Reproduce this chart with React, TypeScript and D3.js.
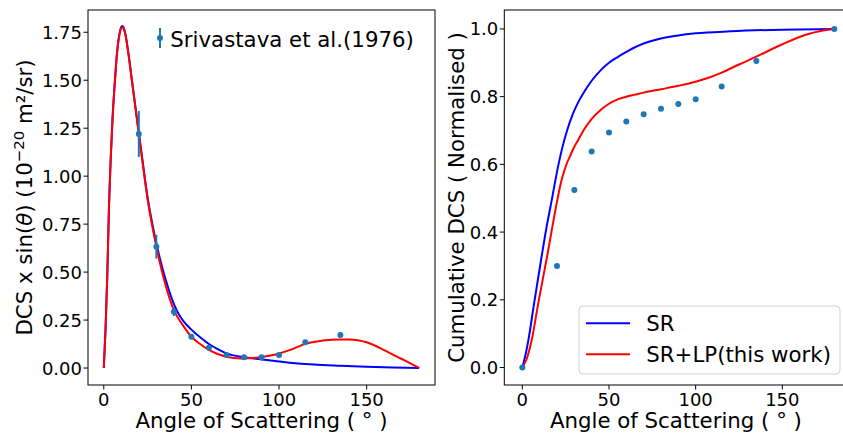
import React from 'react';
import * as d3 from 'd3';

// ---------- Left panel: DCS x sin(theta) ----------
const srAngles = [0, 1, 2, 3, 4, 5, 6, 7, 8, 9, 10.5, 12, 14, 16, 18, 20, 22, 25, 30, 35, 42, 45, 50, 55, 60, 65, 70, 80, 90, 100, 106, 120, 135, 150, 165, 180];
const srValues = [0, 0.2, 0.48, 0.85, 1.1, 1.3, 1.45, 1.58, 1.68, 1.745, 1.782, 1.755, 1.645, 1.505, 1.365, 1.225, 1.09, 0.89, 0.65, 0.47, 0.293, 0.25, 0.2, 0.16, 0.125, 0.098, 0.076, 0.056, 0.045, 0.034, 0.028, 0.018, 0.012, 0.007, 0.003, 0];

const lpAngles = [0, 1, 2, 3, 4, 5, 6, 7, 8, 9, 10.5, 12, 14, 16, 18, 20, 22, 25, 30, 35, 40, 45, 50, 55, 60, 65, 70, 78, 87, 95, 100, 108, 115, 125, 135, 140, 145, 150, 155, 160, 165, 170, 175, 180];
const lpValues = [0, 0.2, 0.48, 0.85, 1.1, 1.3, 1.45, 1.58, 1.68, 1.74, 1.776, 1.75, 1.64, 1.5, 1.36, 1.22, 1.08, 0.88, 0.632, 0.44, 0.302, 0.225, 0.163, 0.125, 0.094, 0.073, 0.059, 0.05, 0.054, 0.065, 0.076, 0.1, 0.126, 0.143, 0.149, 0.149, 0.145, 0.134, 0.116, 0.093, 0.07, 0.047, 0.024, 0];

const expAngles = [20, 30, 40, 50, 60, 70, 80, 90, 100, 115, 135];
const expDCS = [1.22, 0.632, 0.293, 0.163, 0.106, 0.068, 0.056, 0.056, 0.068, 0.134, 0.172];
const expErr = [0.12, 0.062, 0.022, 0.01, 0.008, 0.006, 0.005, 0.005, 0.006, 0.008, 0.014];

// ---------- Right panel: cumulative ----------
const cumSRAngles = [0, 1.5, 3.5, 6.5, 9, 11.2, 14, 17, 20, 23, 26, 29, 32.5, 36, 40, 45, 50, 55, 60, 65, 70, 80, 90, 100, 120, 150, 180];
const cumSRValues = [0, 0.03, 0.081, 0.18, 0.26, 0.33, 0.415, 0.495, 0.578, 0.648, 0.703, 0.747, 0.786, 0.817, 0.847, 0.877, 0.9, 0.917, 0.932, 0.946, 0.957, 0.972, 0.981, 0.987, 0.993, 0.998, 1.0];

const cumLPAngles = [0, 2.5, 5.4, 9.2, 14.1, 20.2, 22, 24, 26, 28, 29.8, 32, 35, 39.8, 45, 50, 55, 60, 65, 70, 80, 90, 100, 107, 115, 125, 135, 145, 155, 165, 172, 180];
const cumLPValues = [0, 0.025, 0.081, 0.19, 0.323, 0.495, 0.54, 0.578, 0.607, 0.63, 0.65, 0.67, 0.698, 0.733, 0.76, 0.779, 0.792, 0.8, 0.806, 0.812, 0.822, 0.832, 0.844, 0.855, 0.871, 0.895, 0.918, 0.943, 0.966, 0.985, 0.994, 1.0];

const cumExpAngles = [0, 20, 30, 40, 50, 60, 70, 80, 90, 100, 115, 135, 180];
const cumExpValues = [0, 0.3, 0.524, 0.638, 0.694, 0.727, 0.748, 0.764, 0.778, 0.792, 0.83, 0.905, 1.0];

const xTicks = [0, 50, 100, 150];
const leftYTicks = [0, 0.25, 0.5, 0.75, 1.0, 1.25, 1.5, 1.75];
const rightYTicks = [0, 0.2, 0.4, 0.6, 0.8, 1.0];

const legendLabels = ['SR', 'SR+LP(this work)'];
const expLabel = 'Srivastava et al.(1976)';

const FONT = 'DejaVu Sans, sans-serif';
const PT = '#1f77b4';

function makeLine(xs: number[], ys: number[], sx: any, sy: any) {
  return d3
    .line<number>()
    .x((_, i) => sx(xs[i]))
    .y((d) => sy(d))
    .curve(d3.curveMonotoneX)(ys) as string;
}

export default function App() {
  const W = 843;
  const H = 433;
  const lx = d3.scaleLinear().domain([-9, 189]).range([88, 435]);
  const ly = d3.scaleLinear().domain([-0.0885, 1.866]).range([385, 10]);
  const rx = d3.scaleLinear().domain([-10.4, 187.6]).range([504.3, 847.5]);
  const ry = d3.scaleLinear().domain([-0.0517, 1.056]).range([385, 10]);

  const tickFs = 18;
  const labFs = 21.3;

  const frame = (sx: any, sy: any) => {
    const [x0, x1] = sx.range();
    const [y0, y1] = sy.range();
    return (
      <rect x={x0} y={y1} width={x1 - x0} height={y0 - y1} fill="none" stroke="#000" strokeWidth={1} />
    );
  };

  const xAxis = (sx: any, sy: any) => {
    const yb = sy.range()[0];
    return xTicks.map((t) => (
      <g key={'xt' + t}>
        <line x1={sx(t)} x2={sx(t)} y1={yb} y2={yb + 4.5} stroke="#000" strokeWidth={1} />
        <text x={sx(t)} y={406} fontSize={tickFs} textAnchor="middle" fontFamily={FONT} fill="#000">
          {t}
        </text>
      </g>
    ));
  };

  const yAxis = (sx: any, sy: any, ticks: number[], dec: number) => {
    const xl = sx.range()[0];
    return ticks.map((t) => (
      <g key={'yt' + t}>
        <line x1={xl - 4.5} x2={xl} y1={sy(t)} y2={sy(t)} stroke="#000" strokeWidth={1} />
        <text x={xl - 6} y={sy(t) + 6.5} fontSize={tickFs} textAnchor="end" fontFamily={FONT} fill="#000">
          {t.toFixed(dec)}
        </text>
      </g>
    ));
  };

  return (
    <svg width={W} height={H} style={{ position: 'absolute', left: 0, top: 0, background: '#fff' }}>
      <rect x={0} y={0} width={W} height={H} fill="#fff" />
      {/* ---------------- Left panel ---------------- */}
      <g>
        <path d={makeLine(srAngles, srValues, lx, ly)} fill="none" stroke="blue" strokeWidth={2} />
        <path d={makeLine(lpAngles, lpValues, lx, ly)} fill="none" stroke="red" strokeWidth={2} />
        {expAngles.map((a, i) => (
          <g key={'e' + i}>
            <line
              x1={lx(a)}
              x2={lx(a)}
              y1={ly(expDCS[i] - expErr[i])}
              y2={ly(expDCS[i] + expErr[i])}
              stroke={PT}
              strokeWidth={2}
            />
            <circle cx={lx(a)} cy={ly(expDCS[i])} r={3} fill={PT} />
          </g>
        ))}
        {frame(lx, ly)}
        {xAxis(lx, ly)}
        {yAxis(lx, ly, leftYTicks, 2)}
        <text x={261.5} y={428} fontSize={labFs} textAnchor="middle" fontFamily={FONT} fill="#000">
          Angle of Scattering ( ° )
        </text>
        <text
          transform="translate(32,197.5) rotate(-90)"
          fontSize={labFs}
          textAnchor="middle"
          fontFamily={FONT}
          fill="#000"
        >
          DCS x sin(<tspan fontStyle="italic">θ</tspan>) (10
          <tspan fontSize={labFs * 0.7} dy={-8}>
            −20
          </tspan>
          <tspan dy={8}> m²/sr)</tspan>
        </text>
        {/* legend */}
        <line x1={160} x2={160} y1={28} y2={48} stroke={PT} strokeWidth={2} />
        <circle cx={160} cy={38} r={3} fill={PT} />
        <text x={170.3} y={46.5} fontSize={labFs} fontFamily={FONT} fill="#000">
          {expLabel}
        </text>
      </g>

      {/* ---------------- Right panel ---------------- */}
      <g>
        <path d={makeLine(cumSRAngles, cumSRValues, rx, ry)} fill="none" stroke="blue" strokeWidth={2} />
        <path d={makeLine(cumLPAngles, cumLPValues, rx, ry)} fill="none" stroke="red" strokeWidth={2} />
        {cumExpAngles.map((a, i) => (
          <circle key={'c' + i} cx={rx(a)} cy={ry(cumExpValues[i])} r={3} fill={PT} />
        ))}
        {frame(rx, ry)}
        {xAxis(rx, ry)}
        {yAxis(rx, ry, rightYTicks, 1)}
        <text x={675.9} y={428} fontSize={labFs} textAnchor="middle" fontFamily={FONT} fill="#000">
          Angle of Scattering ( ° )
        </text>
        <text
          transform="translate(464,197.5) rotate(-90)"
          fontSize={labFs}
          textAnchor="middle"
          fontFamily={FONT}
          fill="#000"
        >
          Cumulative DCS ( Normalised )
        </text>
        {/* legend */}
        <rect x={579} y={306} width={261} height={68} rx={4} ry={4} fill="#fff" fillOpacity={0.8} stroke="#d0d0d0" strokeWidth={1} />
        <line x1={586} x2={630} y1={323.3} y2={323.3} stroke="blue" strokeWidth={2} />
        <text x={646.3} y={331} fontSize={labFs} fontFamily={FONT} fill="#000">
          {legendLabels[0]}
        </text>
        <line x1={586} x2={630} y1={354.3} y2={354.3} stroke="red" strokeWidth={2} />
        <text x={646.3} y={362} fontSize={labFs} fontFamily={FONT} fill="#000">
          {legendLabels[1]}
        </text>
      </g>
    </svg>
  );
}
